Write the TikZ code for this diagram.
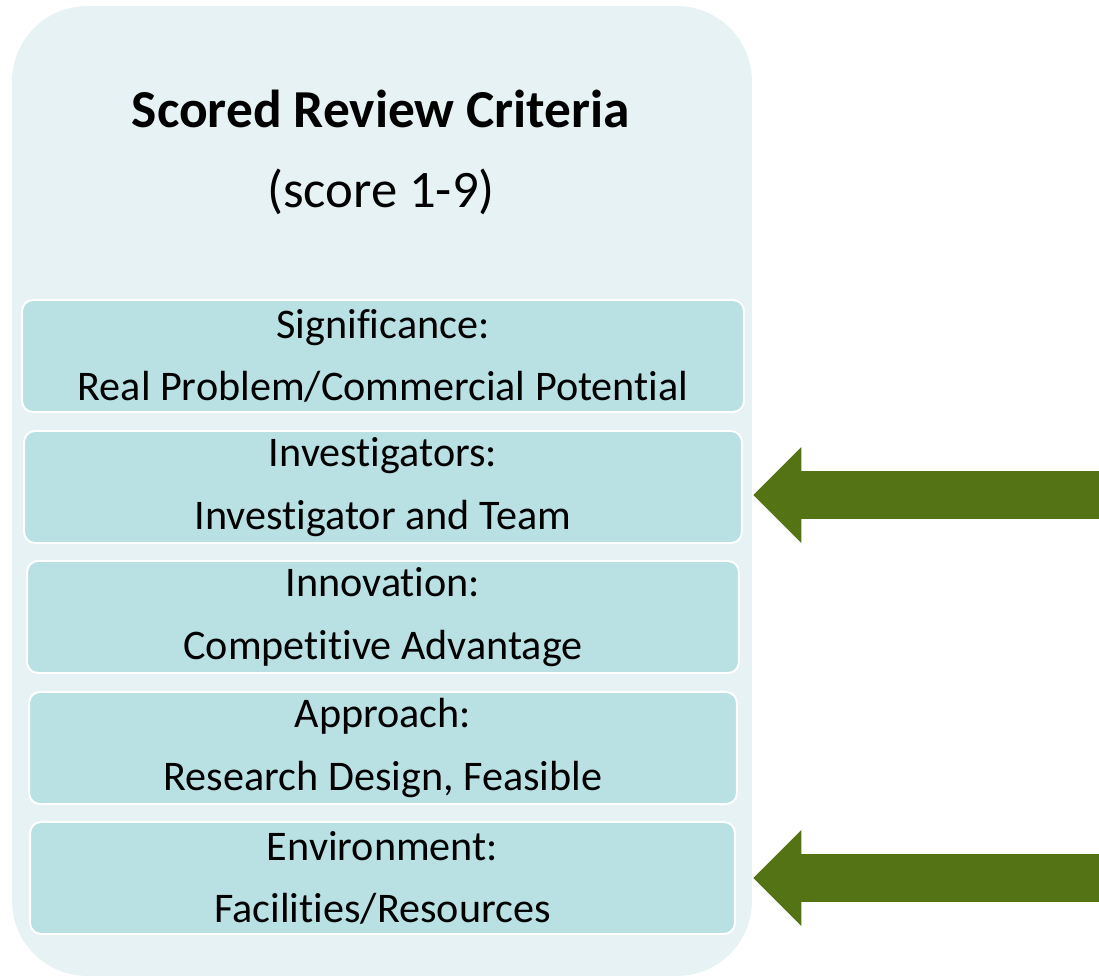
\documentclass[tikz,border=0pt]{standalone}
\usepackage{fontspec}
\setmainfont{Carlito}[Ligatures={NoCommon}]
\usetikzlibrary{%
  arrows.meta,%
  calc%
}
\definecolor{panelfill}{RGB}{231,242,244}
\definecolor{boxfill}{RGB}{185,224,227}
\definecolor{arrowgreen}{RGB}{84,115,20}
\tikzset{
  panel/.style={fill=panelfill,rounded corners=1.5cm,minimum width=14.8cm,
    minimum height=19.4cm,inner sep=0pt},
  critbox/.style={fill=boxfill,draw=white,line width=1.1pt,rounded corners=0.22cm,
    minimum height=2.24cm,align=center,inner sep=0pt,
    font=\fontsize{24}{35.7}\selectfont},
  bigarrow/.style={arrowgreen,line width=0.96cm,
    -{Triangle[length=0.96cm,width=1.92cm,line width=0pt]}}
}

\begin{document}
\begin{tikzpicture}[x=0.02cm,y=-0.02cm]
      \useasboundingbox (0,0) rectangle (1099,980);
      \node[panel] (panel) at (382,491) {};
      \node[font=\fontsize{30.4}{36}\selectfont\bfseries,anchor=base] (title) at (381,128)
      {Scored Review Criteria};
      \node[font=\fontsize{30}{36}\selectfont,anchor=base] (score) at (381,207)
      {(score 1-9)};

      \node[critbox,minimum width=14.44cm] (sig) at (383,356)
      {Significance:\\Real Problem/Commercial Potential};
      \node[critbox,minimum width=14.36cm] (inv) at (383,487)
      {Investigators:\\Investigator and Team};
      \node[critbox,minimum width=14.24cm] (inn) at (383,617)
      {Innovation:\\Competitive Advantage};
      \node[critbox,minimum width=14.16cm] (app) at (383,748)
      {Approach:\\Research Design, Feasible};
      \node[critbox,minimum width=14.1cm] (env) at (382.5,878)
      {Environment:\\Facilities/Resources};

      % arrows pointing at two of the criteria
      \coordinate (invtail) at (1099,495);
      \coordinate (envtail) at (1099,878);
      \coordinate (invtip) at ($(panel.east |- invtail)+(1,0)$);
      \coordinate (envtip) at ($(panel.east |- envtail)+(1,0)$);
      \draw[bigarrow] (invtail) -- (invtip);
      \draw[bigarrow] (envtail) -- (envtip);
    \end{tikzpicture}
\end{document}
